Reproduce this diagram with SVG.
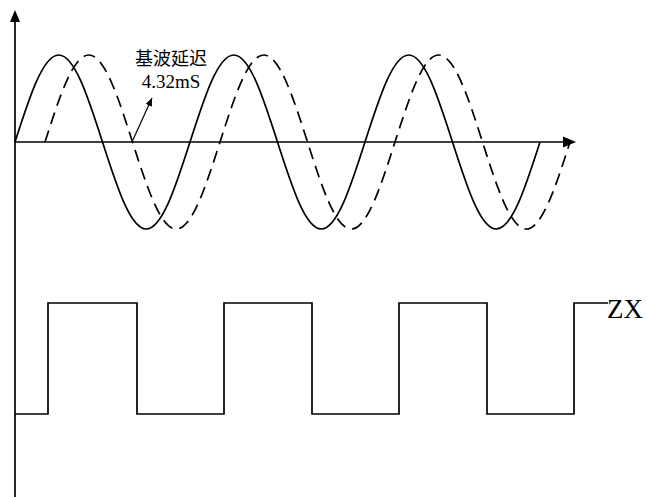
<svg xmlns="http://www.w3.org/2000/svg" width="647" height="497" viewBox="0 0 647 497">
<style>
.ax{stroke:#000;stroke-width:1.7;fill:none}
.w{stroke:#000;stroke-width:1.7;fill:none}
.d{stroke:#000;stroke-width:1.7;fill:none;stroke-dasharray:12 7}
.sq{stroke:#000;stroke-width:1.7;fill:none}
.t{font-family:"Liberation Serif","Noto Sans CJK SC",serif;fill:#000}
</style>
<defs>
<marker id="sm" markerWidth="10" markerHeight="10" refX="8" refY="3.5" orient="auto" markerUnits="userSpaceOnUse">
<path d="M0,0 L8,3.5 L0,7 Z" fill="#000"/>
</marker>
</defs>
<g id="axes">
<line class="ax" x1="15" y1="497" x2="15" y2="22"/>
<path d="M15,10 L10,22 L20,22 Z" fill="#000"/>
<line class="ax" x1="15" y1="142" x2="564" y2="142"/>
<path d="M576,142 L563,136.5 L563,147.5 Z" fill="#000"/>
</g>
<g id="fundamental">
<path class="w" d="M15,142 c14.63,-45.68 28.08,-87 43.75,-87 c15.67,0 29.12,41.32 43.75,87 c14.63,45.68 28.08,87 43.75,87 c15.67,0 29.12,-41.32 43.75,-87 c14.63,-45.68 28.08,-87 43.75,-87 c15.67,0 29.12,41.32 43.75,87 c14.63,45.68 28.08,87 43.75,87 c15.67,0 29.12,-41.32 43.75,-87 c14.63,-45.68 28.08,-87 43.75,-87 c15.67,0 29.12,41.32 43.75,87 c14.63,45.68 28.08,87 43.75,87 c15.67,0 29.12,-41.32 43.75,-87"/>
</g>
<g id="delayed">
<path class="d" d="M45,142 c14.63,-45.68 28.08,-87 43.75,-87 c15.67,0 29.12,41.32 43.75,87 c14.63,45.68 28.08,87 43.75,87 c15.67,0 29.12,-41.32 43.75,-87 c14.63,-45.68 28.08,-87 43.75,-87 c15.67,0 29.12,41.32 43.75,87 c14.63,45.68 28.08,87 43.75,87 c15.67,0 29.12,-41.32 43.75,-87 c14.63,-45.68 28.08,-87 43.75,-87 c15.67,0 29.12,41.32 43.75,87 c14.63,45.68 28.08,87 43.75,87 c15.67,0 29.12,-41.32 43.75,-87"/>
</g>
<g id="label">
<text class="t" x="171" y="65" font-size="18" text-anchor="middle">基波延迟</text>
<text class="t" x="171" y="88" font-size="19" text-anchor="middle">4.32mS</text>
</g>
<g id="connectors">
<line stroke="#000" stroke-width="1.2" x1="132" y1="142" x2="152" y2="98" marker-end="url(#sm)"/>
</g>
<g id="zx">
<path class="sq" d="M15,414 H48 V303 H137 V414 H224 V303 H312 V414 H399 V303 H487 V414 H574 V303 H608"/>
<text class="t" x="607" y="318" font-size="27">ZX</text>
</g>
</svg>
